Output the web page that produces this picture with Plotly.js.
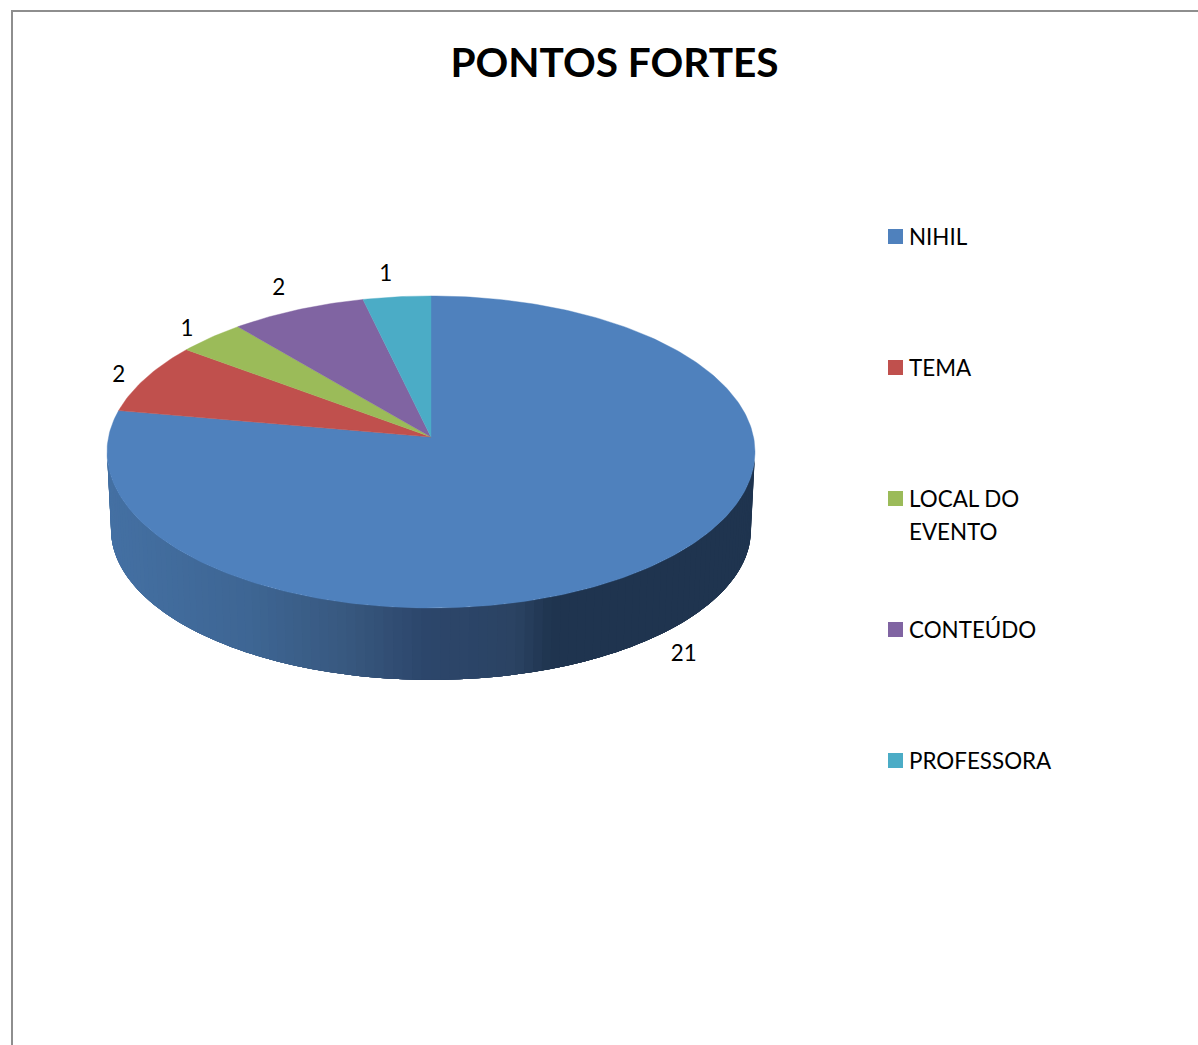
<!DOCTYPE html>
<html>
<head>
<meta charset="utf-8">
<script src="https://cdn.plot.ly/plotly-3.0.1.min.js"></script>
<style>html,body{margin:0;padding:0;background:#fff;overflow:hidden}#chart{width:1198px;height:1045px}</style>
</head>
<body>
<div id="chart"></div>
<script>
// ---- data ----
const categories = ['NIHIL', 'TEMA', 'LOCAL DO EVENTO', 'CONTEÚDO', 'PROFESSORA'];
const values = [21, 2, 1, 2, 1];
const legendLines = [['NIHIL'], ['TEMA'], ['LOCAL DO', 'EVENTO'], ['CONTEÚDO'], ['PROFESSORA']];
const chartTitle = 'PONTOS FORTES';

// ---- style ----
const colors = ['#4F81BD', '#C0504D', '#9BBB59', '#8064A2', '#4BACC6'];
const labelOffsetX = [29, -27, -24, -19, -11];
const labelOffsetY = [91, -2, -7, -20, -21];
const wallStopX = [107, 250, 350, 431, 520, 556, 755];
const wallStopRGB = [[68,112,163],[62,102,148],[56,88,127],[44,70,107],[43,67,99],[31,52,79],[31,52,79]];
const FONT = 'Lato, Carlito, sans-serif';
const LABEL_SIZE = 22.4;

// ---- perspective projection of the pie disc ----
const K = 0.096;
const TOP = {cx: 431, cy: 437, a: 322.5, b: 154.6};
const BOT = {cx: 431, cy: 515, a: 318.5, b: 149};
function project(disc, theta) {
  const u = Math.sin(theta), v = Math.cos(theta), w = 1 + K * v;
  return [disc.cx + disc.a * u / w, disc.cy - disc.b * v / w];
}
function wallColor(x) {
  let i = 0;
  while (i < wallStopX.length - 2 && x > wallStopX[i + 1]) i++;
  const t = Math.min(1, Math.max(0, (x - wallStopX[i]) / (wallStopX[i + 1] - wallStopX[i])));
  const c = wallStopRGB[i].map((s, j) => Math.round(s + (wallStopRGB[i + 1][j] - s) * t));
  return `rgb(${c.join(',')})`;
}

const traces = [];
const total = values.reduce((a, b) => a + b, 0);

// side wall: bands painted from the right edge towards the left, each
// one reaching over to the next so no seams show between them
const start = Math.acos(-K), end = 2 * Math.PI - Math.acos(-K), strips = 110;
for (let i = 0; i < strips; i++) {
  const t0 = start + (end - start) * i / strips;
  const t1 = start + (end - start) * Math.min(strips, i + 6) / strips;
  const tx = [], ty = [];
  for (let j = 0; j <= 6; j++) {
    const p = project(TOP, t0 + (t1 - t0) * j / 6);
    tx.push(p[0]); ty.push(p[1]);
  }
  for (let j = 6; j >= 0; j--) {
    const p = project(BOT, t0 + (t1 - t0) * j / 6);
    tx.push(p[0]); ty.push(p[1]);
  }
  tx.push(tx[0]); ty.push(ty[0]);
  const col = wallColor(project(TOP, t0)[0]);
  traces.push({type: 'scatter', mode: 'none', x: tx, y: ty,
    fill: 'toself', fillcolor: col, hoverinfo: 'skip', showlegend: false});
}

// top face slices, clockwise from 12 o'clock
let cum = 0;
const labelX = [], labelY = [];
values.forEach((val, i) => {
  const a0 = cum / total * 2 * Math.PI, a1 = (cum + val) / total * 2 * Math.PI;
  const xs = [TOP.cx], ys = [TOP.cy];
  const n = Math.max(8, Math.round(val * 14));
  for (let j = 0; j <= n; j++) {
    const p = project(TOP, a0 + (a1 - a0) * j / n);
    xs.push(p[0]); ys.push(p[1]);
  }
  xs.push(TOP.cx); ys.push(TOP.cy);
  traces.push({type: 'scatter', mode: 'lines', x: xs, y: ys, fill: 'toself', fillcolor: colors[i],
    line: {color: colors[i], width: 0.4}, name: categories[i], hovertemplate: categories[i] + ': ' + val + '<extra></extra>', showlegend: false});
  const mid = project(TOP, (a0 + a1) / 2);
  labelX.push(mid[0] + labelOffsetX[i]);
  labelY.push(mid[1] + labelOffsetY[i]);
  cum += val;
});

// value labels
traces.push({type: 'scatter', mode: 'text', x: labelX, y: labelY, text: values.map(String),
  textposition: 'middle center', textfont: {family: FONT, size: LABEL_SIZE, color: '#000'}, hoverinfo: 'skip', showlegend: false});

// legend
const LEG_X = 895.5, LEG_TEXT_X = 909, LEG_Y0 = 236.5, LEG_STEP = 131, LEG_LINE = 33;
const legY = categories.map((_, i) => LEG_Y0 + LEG_STEP * i);
traces.push({type: 'scatter', mode: 'markers', x: categories.map(() => LEG_X), y: legY,
  marker: {symbol: 'square', size: 15, color: colors, line: {width: 0}}, hoverinfo: 'skip', showlegend: false});
const legTextX = [], legTextY = [], legText = [];
legendLines.forEach((lines, i) => lines.forEach((s, j) => {
  legTextX.push(LEG_TEXT_X); legTextY.push(legY[i] + 2.5 + LEG_LINE * j); legText.push(s);
}));
traces.push({type: 'scatter', mode: 'text', x: legTextX, y: legTextY, text: legText, textposition: 'middle right',
  textfont: {family: FONT, size: LABEL_SIZE, color: '#000'}, hoverinfo: 'skip', showlegend: false});

const hidden = {visible: false, fixedrange: true};
const layout = {
  width: 1198, height: 1045, margin: {l: 0, r: 0, t: 0, b: 0},
  paper_bgcolor: '#fff', plot_bgcolor: '#fff', showlegend: false,
  title: {text: '<b>' + chartTitle + '</b>', x: 614.5 / 1198, xref: 'paper', xanchor: 'center',
          y: 1 - 63 / 1045, yref: 'paper', yanchor: 'middle', font: {family: FONT, size: 40.6, color: '#000'}},
  xaxis: Object.assign({range: [0, 1198]}, hidden),
  yaxis: Object.assign({range: [1045, 0]}, hidden),
  shapes: [
    {type: 'line', x0: 12, x1: 12, y0: 10, y1: 1045, line: {color: '#8e8e8e', width: 2}},
    {type: 'line', x0: 11, x1: 1198, y0: 11, y1: 11, line: {color: '#8e8e8e', width: 2}}
  ]
};
Plotly.newPlot('chart', traces, layout, {displayModeBar: false, responsive: false});
</script>
</body>
</html>
